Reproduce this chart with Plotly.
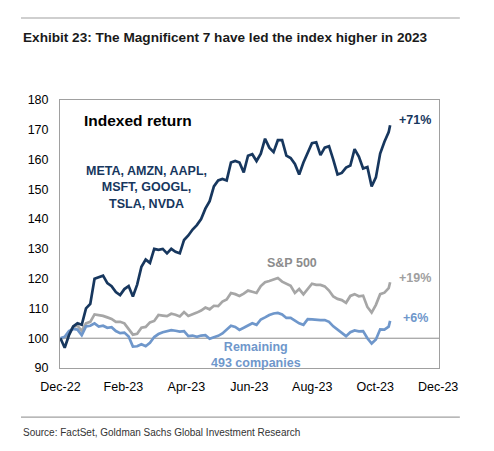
import plotly.graph_objects as go

# trading-day index of each sampled point (category-style axis, as in the source)
day_index = list(range(0, 232, 3)) + [232]

mag7 = [100, 96.8, 101, 104, 105, 104.5, 110, 111.5, 120, 120.5,
        121, 118.5, 117.5, 115.5, 114.5, 116.5, 117.5, 114, 118, 124,
        126.4, 125.3, 130, 129.7, 130, 128.5, 130, 129, 128.5, 133,
        134.5, 136.5, 138, 140, 143.5, 146, 151, 153, 153.5, 153,
        159, 159.5, 159, 155.7, 161.3, 161.8, 159.5, 162, 167, 164,
        162.5, 166.5, 166.5, 161.3, 160.5, 158.5, 155, 159, 162.5, 165.5,
        165.8, 161.5, 164, 164.5, 160, 155, 155.5, 157.3, 158, 163.5,
        161, 157, 157.5, 151, 154, 162, 166, 169.2, 171.5]

sp500 = [100, 100.2, 101.5, 103.8, 104.2, 102.5, 105, 105.5, 108, 107.8,
         107.5, 107, 106.5, 105.5, 105.5, 105, 103, 101.2, 101.5, 103.5,
         103.8, 105.3, 105.8, 107.8, 107.6, 107.4, 108.2, 107.9, 107.3, 108.8,
         107.5, 108, 108.6, 109.3, 110.3, 109.7, 110.9, 110.8, 112.3, 113,
         115.2, 114.8, 114.2, 115, 116, 115.6, 115.2, 117.5, 118.8, 119.2,
         119.7, 120.2, 119, 118.3, 117.6, 115.2, 116.5, 114.7, 116.6, 118.3,
         117.9, 117.9, 117.4, 116, 114, 113.2, 112.8, 111.9, 114.2, 114.8,
         114.1, 114.3, 110.5, 108.6, 111.2, 114.8, 115.3, 116.8, 118.8]

rest493 = [100, 100.5, 102.4, 103.1, 102.9, 101, 104, 104.2, 105, 103.9,
           104.2, 103.5, 103.7, 102.4, 101.7, 101.9, 100.6, 97.2, 97.3, 98,
           97.3, 98.5, 100.4, 101.4, 102, 102.4, 102.7, 102.5, 102.2, 102.4,
           100.7, 100.9, 100.5, 100.9, 101, 99.8, 100.2, 100.8, 101.6, 103,
           104.2, 103.8, 102.8, 103.5, 104.4, 105, 104.5, 106.3, 107, 107.8,
           108.3, 108.5, 108, 106.8, 106.8, 106, 105, 104.5, 106.4, 106.3,
           106.1, 106.1, 106.1, 105.5, 104, 102.9, 101.8, 100.7, 102, 102.6,
           102.3, 102.4, 100, 98.2, 99.6, 103, 102.9, 103.9, 105.8]

tick_days = [0, 44.3, 88.6, 132.9, 177.2, 221.5, 265.8]
tick_labels = ["Dec-22", "Feb-23", "Apr-23", "Jun-23", "Aug-23", "Oct-23", "Dec-23"]
y_ticks = [90, 100, 110, 120, 130, 140, 150, 160, 170, 180]

NAVY = "#17375e"
GRAY = "#a6a6a6"
LBLUE = "#6f97cb"
FONT = "Liberation Sans, Arial, sans-serif"

fig = go.Figure()
fig.add_trace(go.Scatter(x=day_index, y=sp500, mode="lines",
                         line=dict(color=GRAY, width=2.7), hoverinfo="skip"))
fig.add_trace(go.Scatter(x=day_index, y=rest493, mode="lines",
                         line=dict(color=LBLUE, width=2.7), hoverinfo="skip"))
fig.add_trace(go.Scatter(x=day_index, y=mag7, mode="lines",
                         line=dict(color=NAVY, width=2.7), hoverinfo="skip"))

fig.update_layout(
    width=494, height=451,
    margin=dict(l=60, r=55, t=100, b=83),
    paper_bgcolor="white", plot_bgcolor="white",
    showlegend=False,
    font=dict(family=FONT, size=12, color="#000000"),
)
fig.update_xaxes(range=[-0.3, 266.4], tickvals=tick_days, ticktext=tick_labels,
                 showgrid=False, zeroline=False, showline=True, mirror=True,
                 linecolor="#a0a0a0", linewidth=1, ticks="",
                 ticklabelstandoff=7,
                 tickfont=dict(size=12.5, color="#000"))
fig.update_yaxes(range=[90, 180], tickvals=y_ticks,
                 showgrid=False, zeroline=False, showline=True, mirror=True,
                 linecolor="#a0a0a0", linewidth=1, ticks="",
                 ticklabelstandoff=8,
                 tickfont=dict(size=12.5, color="#000"))

# reference line at 100
fig.add_shape(type="line", xref="paper", yref="y", x0=0, x1=1, y0=100, y1=100,
              line=dict(color="#8c8c8c", width=1), layer="below")
# top and bottom separator rules
fig.add_shape(type="line", xref="paper", yref="paper", x0=-0.103, x1=1.055,
              y0=1.306, y1=1.306, line=dict(color="#a0a0a0", width=1.2))
fig.add_shape(type="line", xref="paper", yref="paper", x0=-0.103, x1=1.055,
              y0=-0.183, y1=-0.183, line=dict(color="#a0a0a0", width=1.2))

ann = [
    dict(text="<b>Exhibit 23: The Magnificent 7 have led the index higher in 2023</b>",
         x=-0.103, y=1.233, xanchor="left", yanchor="middle",
         font=dict(family=FONT, size=13.6, color="#1a1a1a")),
    dict(text="Source: FactSet, Goldman Sachs Global Investment Research",
         x=-0.103, y=-0.239, xanchor="left", yanchor="middle",
         font=dict(family=FONT, size=10, color="#333333")),
    dict(text="<b>Indexed return</b>", x=0.057, y=0.925, xanchor="left", yanchor="middle",
         font=dict(family=FONT, size=15.5, color="#000")),
    dict(text="<b>META, AMZN, AAPL,<br>MSFT, GOOGL,<br>TSLA, NVDA</b>",
         x=0.229, y=0.672, xanchor="center", yanchor="middle", align="center",
         font=dict(family=FONT, size=12.5, color=NAVY)),
    dict(text="<b>+71%</b>", x=0.889, y=0.925, xanchor="left", yanchor="middle",
         font=dict(family=FONT, size=12.5, color=NAVY)),
    dict(text="<b>S&P 500</b>", x=0.612, y=0.392, xanchor="center", yanchor="middle",
         font=dict(family=FONT, size=12.5, color="#8c8c8c")),
    dict(text="<b>+19%</b>", x=0.889, y=0.336, xanchor="left", yanchor="middle",
         font=dict(family=FONT, size=12.5, color="#a0a0a0")),
    dict(text="<b>+6%</b>", x=0.900, y=0.187, xanchor="left", yanchor="middle",
         font=dict(family=FONT, size=12.5, color=LBLUE)),
    dict(text="<b>Remaining<br>493 companies</b>", x=0.517, y=0.050,
         xanchor="center", yanchor="middle", align="center",
         font=dict(family=FONT, size=12.5, color=LBLUE)),
]
for a in ann:
    a.update(xref="paper", yref="paper", showarrow=False)
    fig.add_annotation(**a)

fig.write_html("out.html", config={"displayModeBar": False},
               post_script="document.body.style.margin='0';")
